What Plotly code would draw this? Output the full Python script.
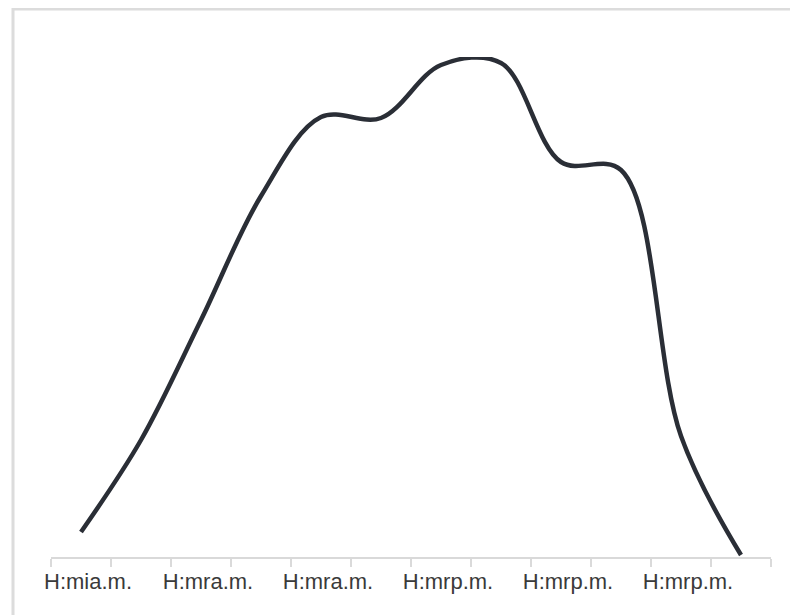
import plotly.graph_objects as go

# Data (12 categories, labels shown every other category)
categories = list(range(12))
values = [5.0, 23.4, 47.4, 72.2, 88.0, 87.8, 98.4, 98.8, 79.0, 77.4, 24.2, 0.4]
label_positions = [0, 2, 4, 6, 8, 10]
tick_labels = ["H:mia.m.", "H:mra.m.", "H:mra.m.", "H:mrp.m.", "H:mrp.m.", "H:mrp.m."]
boundaries = [i - 0.5 for i in range(13)]

fig = go.Figure()
fig.add_trace(go.Scatter(
    x=categories, y=values, mode="lines",
    line=dict(color="#2a2e36", width=4.5, shape="spline", smoothing=1.0),
    hoverinfo="skip", showlegend=False,
))

# page body has an 8px margin, so the figure is drawn 8px right/down
W, H = 790, 607
ml, mt = 43, 49
pw, ph = 720, 500
mr, mb = W - ml - pw, H - mt - ph
OFF = 8

def px_x(p):
    return (p - OFF - ml) / pw

def px_y(p):
    return (H - mb - (p - OFF)) / ph

fig.update_layout(
    width=W, height=H,
    margin=dict(l=ml, r=mr, t=mt, b=mb),
    paper_bgcolor="white", plot_bgcolor="white",
    xaxis=dict(
        range=[-0.5, 11.5], showgrid=False, zeroline=False,
        showline=True, linecolor="#d9d9d9", linewidth=2,
        tickmode="array", tickvals=label_positions, ticktext=tick_labels,
        ticks="", ticklabelstandoff=4, ticklabelshift=7,
        tickfont=dict(family="Liberation Sans, Arial, sans-serif", size=22, color="#3a3a3a"),
        minor=dict(tickmode="array", tickvals=boundaries, ticks="outside",
                   ticklen=8, tickcolor="#dadada", tickwidth=1.5, showgrid=False),
        fixedrange=True,
    ),
    yaxis=dict(range=[0, 100], visible=False, fixedrange=True),
    shapes=[
        dict(type="rect", xref="paper", yref="paper",
             x0=px_x(13), x1=px_x(830), y0=px_y(660), y1=px_y(9),
             line=dict(color="#dcdcdc", width=3), fillcolor="rgba(0,0,0,0)", layer="below"),
    ],
)

fig.write_html("out.html")
